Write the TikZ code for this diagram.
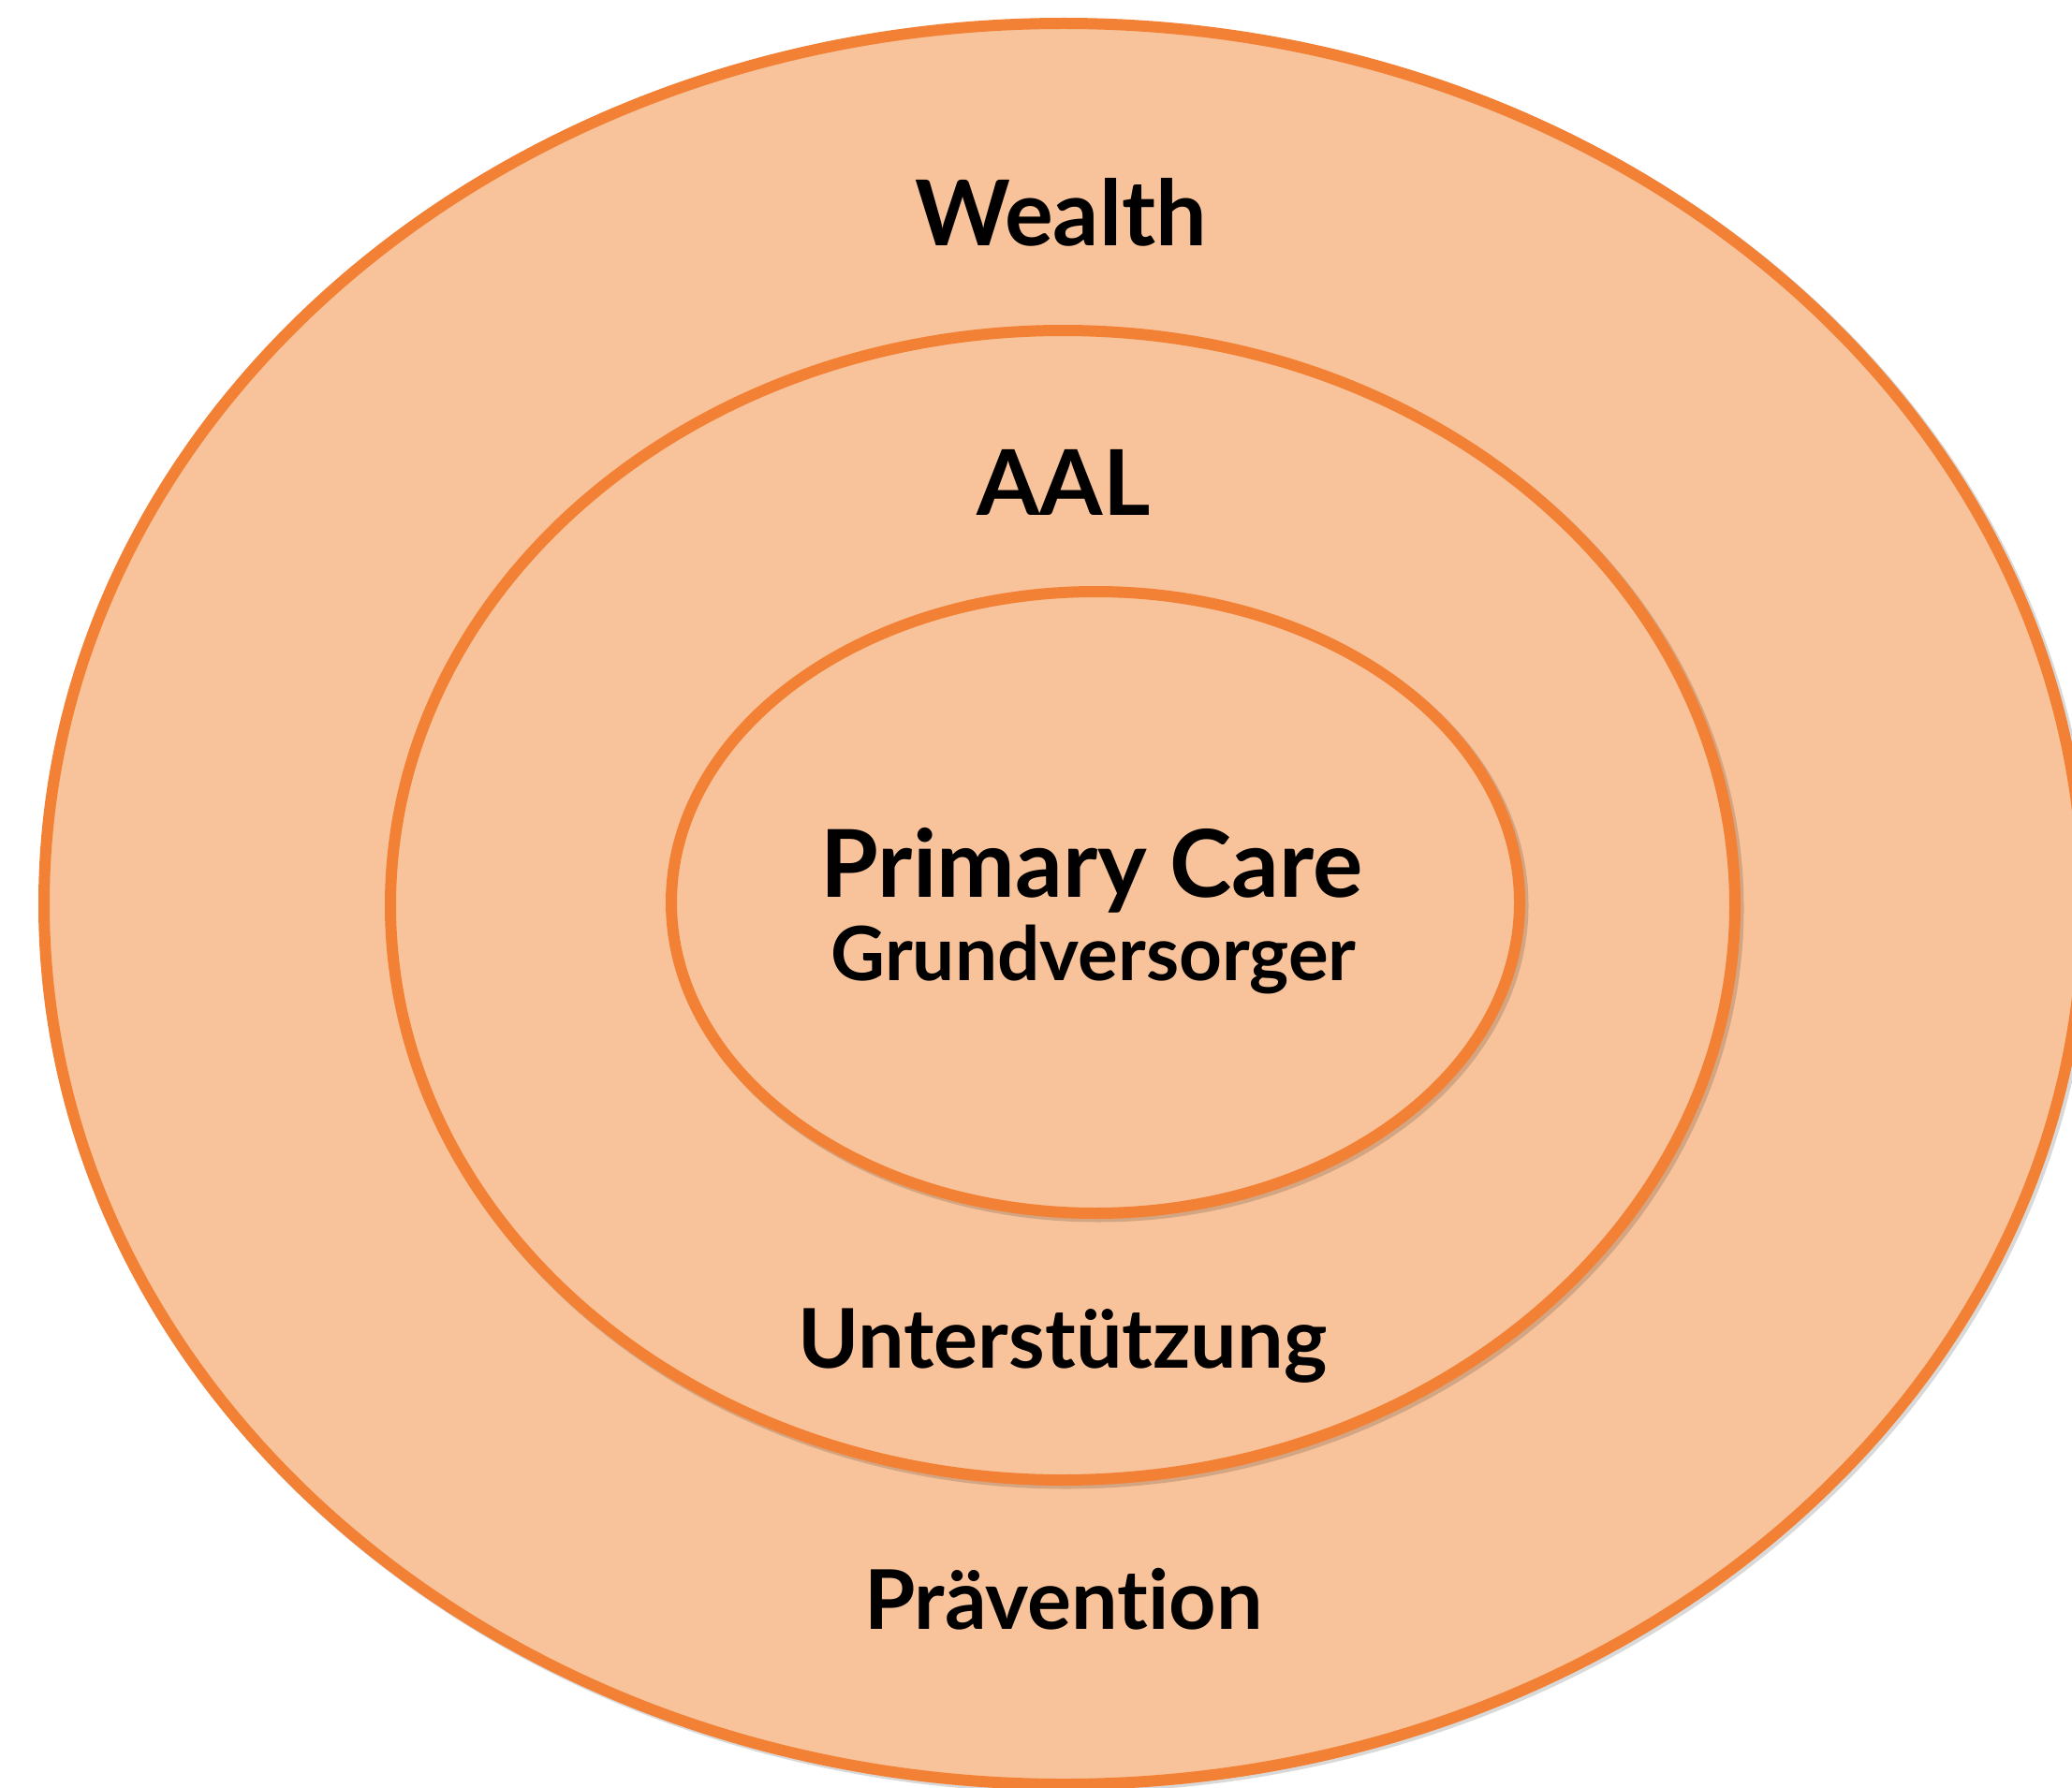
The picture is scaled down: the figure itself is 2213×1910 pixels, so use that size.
\documentclass[tikz,border=0pt]{standalone}
\usepackage{fontspec}
\setmainfont{Lato}[Ligatures={NoCommon,NoRare}]
\definecolor{ringfill}{HTML}{F8C39A}
\definecolor{ringline}{HTML}{F28136}
\begin{document}
\begin{tikzpicture}[x=1pt,y=-1pt,
  ring/.style={fill=ringfill,draw=ringline,line width=12pt},
  ringshadow/.style={draw=black,opacity=0.15,line width=13pt},
  lbl/.style={anchor=base,inner sep=0pt,font=\bfseries}]
\useasboundingbox (0,0) rectangle (2213,1910);
\clip (0,0) rectangle (2213,1910);
% outer
\draw[ringshadow] (1139,968) ellipse [x radius=1089, y radius=940.5];
\draw[ring] (1136,965.5) ellipse [x radius=1089, y radius=940.5];
% middle
\draw[ringshadow] (1138,970) ellipse [x radius=718, y radius=614];
\draw[ring] (1135,967) ellipse [x radius=718, y radius=614];
% inner
\draw[ringshadow] (1173,967) ellipse [x radius=453, y radius=332];
\draw[ring] (1170,964) ellipse [x radius=453, y radius=332];
% labels
\node[lbl,font=\bfseries\fontsize{97}{110}\selectfont] (wealth) at (1133,263) {Wealth};
\node[lbl,font=\bfseries\fontsize{97}{110}\selectfont] (aal) at (1136,550) {AAL};
\node[lbl,font=\bfseries\fontsize{100}{110}\selectfont] (pc) at (1166,958) {Primary Care};
\node[lbl,font=\bfseries\fontsize{80}{90}\selectfont] (gv) at (1168,1047) {Grundversorger};
\node[lbl,font=\bfseries\fontsize{88}{100}\selectfont] (ust) at (1135,1461) {Unterstützung};
\node[lbl,font=\bfseries\fontsize{88}{100}\selectfont] (prae) at (1136,1740) {Prävention};
\end{tikzpicture}
\end{document}
